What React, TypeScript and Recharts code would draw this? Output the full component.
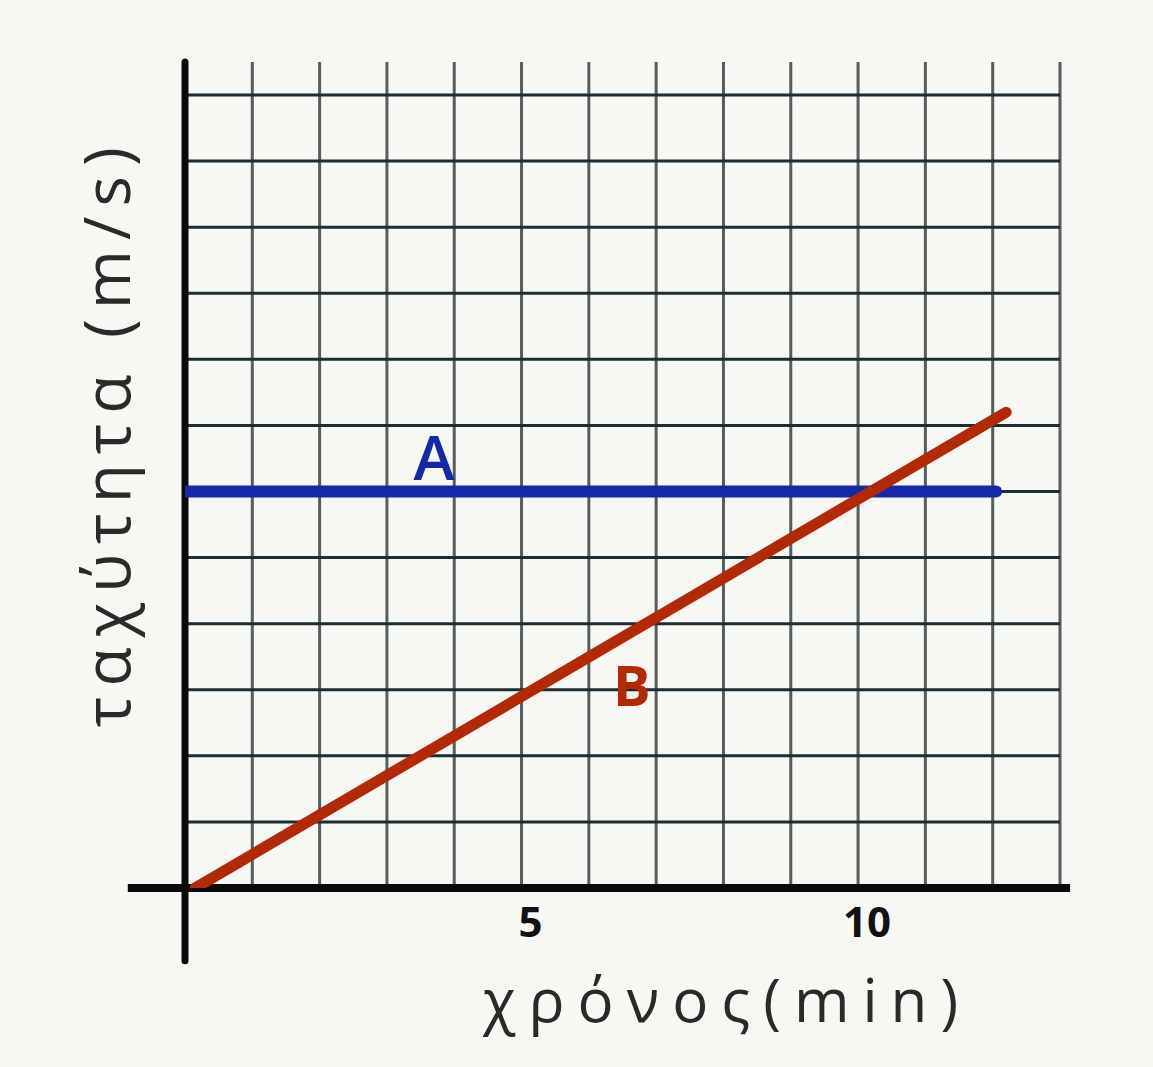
import React from 'react';
import { LineChart, Line, XAxis, YAxis, CartesianGrid, ReferenceLine, ReferenceDot } from 'recharts';

// time (min) grid ticks and speed (m/s) grid ticks
const timeTicks = [0, 1, 2, 3, 4, 5, 6, 7, 8, 9, 10, 11, 12, 13];
const speedTicks = [0, 1, 2, 3, 4, 5, 6, 7, 8, 9, 10, 11, 12];
const labelledTicks = [5, 10];

// series A: constant speed, series B: speeding up
const lineA = [
    { t: 0, v: 6 },
    { t: 12.05, v: 6 },
];
const lineB = [
    { t: 0.15, v: 0 },
    { t: 12.2, v: 7.2 },
];

const ink = '#2a2a2a';
const hand = '"Open Sans", "DejaVu Sans", sans-serif';

const TimeTick = ({ x, y, payload }: any) => {
    if (!labelledTicks.includes(payload.value)) return null;
    return (
        <text x={x + 9} y={y + 47} textAnchor="middle" fill="#111" fontSize={42} fontWeight={700} fontFamily={hand}>
            {payload.value}
        </text>
    );
};

export default function App() {
    return (
        <div style={{ position: 'absolute', left: 0, top: 0, width: 1153, height: 1067, background: '#f7f7f3' }}>
            <LineChart
                width={1153}
                height={1067}
                margin={{ top: 62, right: 93, bottom: 129, left: 175 }}
            >
                <CartesianGrid horizontal={false} stroke="#555d5e" strokeWidth={3} />
                {speedTicks.map((v) => (
                    <ReferenceLine key={v} y={v} stroke="#1c2e33" strokeWidth={3} />
                ))}
                <XAxis
                    type="number"
                    dataKey="t"
                    domain={[0, 13]}
                    ticks={timeTicks}
                    allowDataOverflow
                    axisLine={false}
                    tickLine={false}
                    tickSize={0}
                    height={50}
                    tick={<TimeTick />}
                    interval={0}
                    label={{
                        content: () => (
                            <text x={727} y={1022} textAnchor="middle" fill={ink} fontSize={60} fontWeight={500} fontFamily={hand} letterSpacing={13}>
                                χρόνος(min)
                            </text>
                        ),
                    }}
                />
                <YAxis
                    type="number"
                    dataKey="v"
                    domain={[0, 12.5]}
                    ticks={speedTicks}
                    interval={0}
                    allowDataOverflow
                    width={10}
                    axisLine={false}
                    tickLine={false}
                    tick={false}
                    label={{
                        content: () => (
                            <text
                                x={130}
                                y={432}
                                transform="rotate(-90 130 432)"
                                textAnchor="middle"
                                fill={ink}
                                fontSize={64}
                                fontWeight={500}
                                fontFamily={hand}
                                letterSpacing={10}
                            >
                                ταχύτητα (m/s)
                            </text>
                        ),
                    }}
                />
                <ReferenceLine
                    segment={[{ x: -0.85, y: 0 }, { x: 13.15, y: 0 }]}
                    stroke="#0a0a0a"
                    strokeWidth={8}
                    ifOverflow="visible"
                />
                <ReferenceLine
                    segment={[{ x: 0, y: -1.1 }, { x: 0, y: 12.5 }]}
                    stroke="#0a0a0a"
                    strokeWidth={7}
                    strokeLinecap="round"
                    ifOverflow="visible"
                />
                <Line
                    data={lineA}
                    dataKey="v"
                    stroke="#1428a8"
                    strokeWidth={12}
                    strokeLinecap="round"
                    dot={false}
                    isAnimationActive={false}
                />
                <Line
                    data={lineB}
                    dataKey="v"
                    stroke="#b22a05"
                    strokeWidth={11}
                    strokeLinecap="round"
                    dot={false}
                    isAnimationActive={false}
                />
                <ReferenceDot
                    x={3.7}
                    y={6.15}
                    r={0}
                    ifOverflow="visible"
                    label={{ value: 'A', position: 'center', fill: '#1428a8', fontSize: 62, fontWeight: 600, fontFamily: hand, dy: -24 }}
                />
                <ReferenceDot
                    x={6.64}
                    y={2.9}
                    r={0}
                    ifOverflow="visible"
                    label={{ value: 'B', position: 'center', fill: '#b22a05', fontSize: 56, fontWeight: 700, fontFamily: hand, dy: -10 }}
                />
            </LineChart>
        </div>
    );
}
